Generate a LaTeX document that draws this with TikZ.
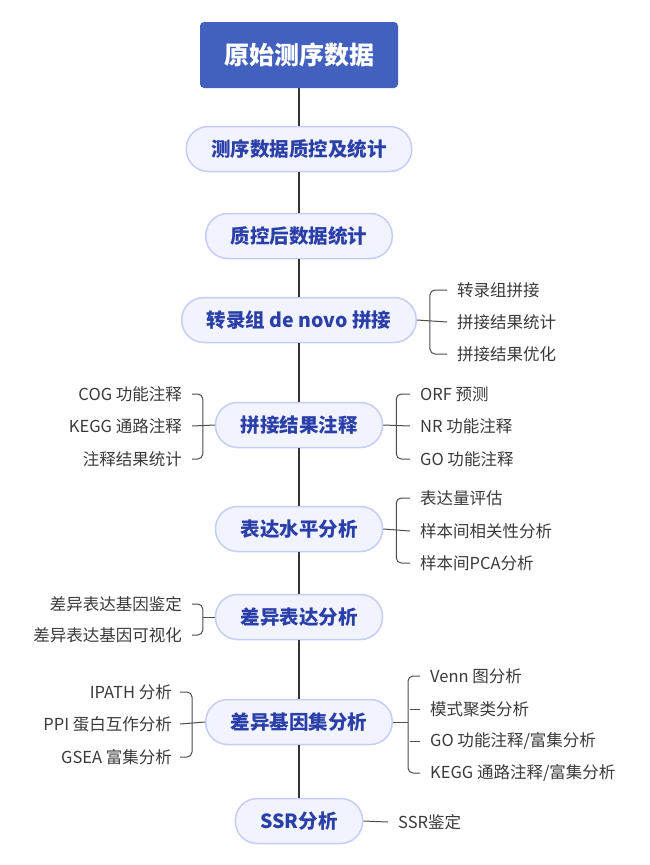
\documentclass[tikz,border=0pt]{standalone}
\usepackage{fontspec}
\setmainfont{Noto Sans CJK SC}
\usepackage{xcolor}
\usetikzlibrary{calc}

\definecolor{rootblue}{HTML}{4260BE}
\definecolor{stepfill}{HTML}{F1F3FE}
\definecolor{stepline}{HTML}{C5CDF7}
\definecolor{steptext}{HTML}{2B3FA8}
\definecolor{leaftext}{HTML}{3A3A3A}

\tikzset{
  rootbox/.style={fill=rootblue, rounded corners=4pt, minimum width=198pt,
    minimum height=66pt, text=white, font=\fontsize{25}{26}\selectfont\bfseries},
  stepbox/.style={fill=stepfill, draw=stepline, line width=1.5pt,
    rounded corners=22pt, minimum height=45pt, inner xsep=25pt,
    text=steptext, font=\fontsize{19.5}{20}\selectfont\bfseries},
  leaf/.style={inner sep=0pt, text=leaftext, font=\fontsize{16.5}{17}\selectfont},
  spine/.style={draw=black!80, line width=1.8pt},
  branch/.style={draw=black!70, line width=1pt},
  bracket/.style={branch, rounded corners=5pt}
}

\begin{document}
\begin{tikzpicture}[x=1pt,y=-1pt]
\useasboundingbox (0,0) rectangle (650,865);

% main line
\node[rootbox] (root) at (299,55) {原始测序数据};
\node[stepbox] (qc) at (299,149) {测序数据质控及统计};
\node[stepbox] (clean) at (299,236) {质控后数据统计};
\node[stepbox] (asm) at (299,320) {转录组 de novo 拼接};
\node[stepbox] (annot) at (299,425) {拼接结果注释};
\node[stepbox] (expr) at (299,529) {表达水平分析};
\node[stepbox] (deg) at (299,617) {差异表达分析};
\node[stepbox] (set) at (299,722) {差异基因集分析};
\node[stepbox] (ssr) at (299,821) {SSR分析};

\foreach \a/\b in {root/qc, qc/clean, clean/asm, asm/annot, annot/expr, expr/deg, deg/set, set/ssr}
  \draw[spine] (\a) -- (\b);

% leaves
\foreach \t/\y [count=\i] in {转录组拼接/290, 拼接结果统计/322, 拼接结果优化/354}
  \node[leaf, anchor=west] (asmR\i) at (457,\y) {\t};
\foreach \t/\y [count=\i] in {COG 功能注释/394, KEGG 通路注释/426, 注释结果统计/459}
  \node[leaf, anchor=east] (annotL\i) at (182,\y) {\t};
\foreach \t/\y [count=\i] in {ORF 预测/394, NR 功能注释/426, GO 功能注释/459}
  \node[leaf, anchor=west] (annotR\i) at (420,\y) {\t};
\foreach \t/\y [count=\i] in {表达量评估/498, 样本间相关性分析/531, 样本间PCA分析/563}
  \node[leaf, anchor=west] (exprR\i) at (420,\y) {\t};
\foreach \t/\y [count=\i] in {差异表达基因鉴定/604, 差异表达基因可视化/635}
  \node[leaf, anchor=east] (degL\i) at (182,\y) {\t};
\foreach \t/\y [count=\i] in {IPATH 分析/692, PPI 蛋白互作分析/724, GSEA 富集分析/757}
  \node[leaf, anchor=east] (setL\i) at (172,\y) {\t};
\foreach \t/\y [count=\i] in {Venn 图分析/676, 模式聚类分析/709, {GO 功能注释/富集分析}/741, {KEGG 通路注释/富集分析}/773}
  \node[leaf, anchor=west] (setR\i) at (430,\y) {\t};
\node[leaf, anchor=west] (ssrR1) at (398,822) {SSR鉴定};

% brackets
\draw[branch] (asm.east) -- ([xshift=-10pt]asmR2.west);
\draw[bracket] ([xshift=-10pt]asmR1.west) -| ([xshift=13pt]asm.east) |- ([xshift=-10pt]asmR3.west);

\draw[branch] (annot.west) -- ([xshift=10pt]annotL2.east);
\draw[bracket] ([xshift=10pt]annotL1.east) -| ([xshift=-12pt]annot.west) |- ([xshift=10pt]annotL3.east);
\draw[branch] (annot.east) -- ([xshift=-10pt]annotR2.west);
\draw[bracket] ([xshift=-10pt]annotR1.west) -| ([xshift=13pt]annot.east) |- ([xshift=-10pt]annotR3.west);

\draw[branch] (expr.east) -- ([xshift=-10pt]exprR2.west);
\draw[bracket] ([xshift=-10pt]exprR1.west) -| ([xshift=13pt]expr.east) |- ([xshift=-10pt]exprR3.west);

\draw[branch] (deg.west) -- ++(-12,0);
\draw[bracket] ([xshift=10pt]degL1.east) -| ([xshift=-12pt]deg.west) |- ([xshift=10pt]degL2.east);

\draw[branch] (set.west) -- ([xshift=8pt]setL2.east);
\draw[bracket] ([xshift=8pt]setL1.east) -| ([xshift=-13pt]set.west) |- ([xshift=8pt]setL3.east);
\draw[branch] (set.east) -- ++(15,0);
\draw[bracket] ([xshift=-10pt]setR1.west) -| ([xshift=15pt]set.east) |- ([xshift=-10pt]setR4.west);
\foreach \i in {2,3}
  \draw[branch] ([xshift=-10pt]setR\i.west) -- ++(-10,0);

\draw[branch] (ssr.east) -- ([xshift=-10pt]ssrR1.west);
\end{tikzpicture}
\end{document}
